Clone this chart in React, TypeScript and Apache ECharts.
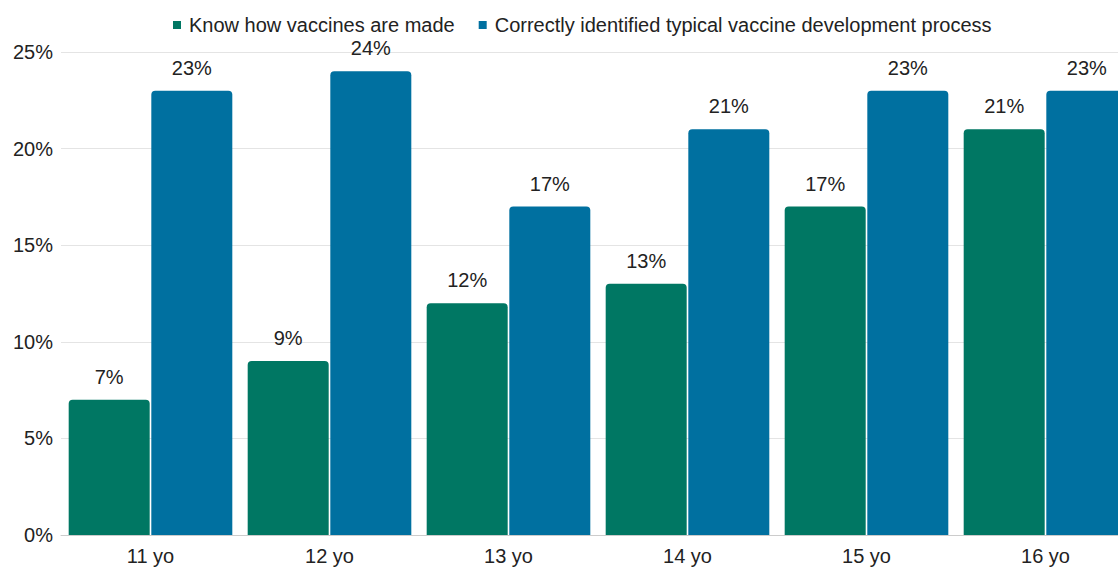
import React, { useEffect, useRef } from "react";
import * as echarts from "echarts";

const categories = ["11 yo", "12 yo", "13 yo", "14 yo", "15 yo", "16 yo"];
const knowHow = [7, 9, 12, 13, 17, 21];
const correctlyIdentified = [23, 24, 17, 21, 23, 23];
const seriesNames = ["Know how vaccines are made", "Correctly identified typical vaccine development process"];
const yTicks = [0, 5, 10, 15, 20, 25];

export default function App() {
  const ref = useRef<HTMLDivElement>(null);
  useEffect(() => {
    if (!ref.current) return;
    const chart = echarts.init(ref.current, null, { renderer: "svg" });
    const font = "Liberation Sans, Arial, sans-serif";
    chart.setOption({
      animation: false,
      textStyle: { fontFamily: font },
      legend: {
        top: 10,
        left: 168,
        icon: "rect",
        itemWidth: 8,
        itemHeight: 8,
        itemGap: 24,
        textStyle: { fontSize: 20, color: "#222", fontFamily: font, padding: [0, 0, 0, 3] },
        data: seriesNames,
      },
      grid: { left: 61, top: 52, width: 1074, height: 483, containLabel: false },
      xAxis: {
        type: "category",
        data: categories,
        axisTick: { show: false },
        axisLine: { show: true, lineStyle: { color: "#cccccc", width: 1 } },
        axisLabel: { fontSize: 20, color: "#222", margin: 11, fontFamily: font },
      },
      yAxis: {
        type: "value",
        min: yTicks[0],
        max: yTicks[yTicks.length - 1],
        interval: 5,
        axisLine: { show: false },
        axisTick: { show: false },
        axisLabel: { fontSize: 20, color: "#222", margin: 8, formatter: "{value}%", fontFamily: font },
        splitLine: { lineStyle: { color: "#e4e4e4", width: 1 } },
      },
      series: [
        {
          name: seriesNames[0],
          type: "bar",
          data: knowHow,
          barWidth: 81,
          barGap: "2%",
          itemStyle: { color: "#007763", borderRadius: [4, 4, 0, 0] },
          label: { show: true, position: "top", distance: 13, fontSize: 20, color: "#222", formatter: "{c}%", fontFamily: font },
        },
        {
          name: seriesNames[1],
          type: "bar",
          data: correctlyIdentified,
          barWidth: 81,
          barGap: "2%",
          itemStyle: { color: "#0070a0", borderRadius: [4, 4, 0, 0] },
          label: { show: true, position: "top", distance: 13, fontSize: 20, color: "#222", formatter: "{c}%", fontFamily: font },
        },
      ],
    });
    return () => chart.dispose();
  }, []);
  return (
    <div style={{ position: "fixed", left: 0, top: 0, width: 1118, height: 567, background: "#fff", overflow: "hidden" }}>
      <div ref={ref} style={{ width: 1160, height: 567 }} />
    </div>
  );
}
